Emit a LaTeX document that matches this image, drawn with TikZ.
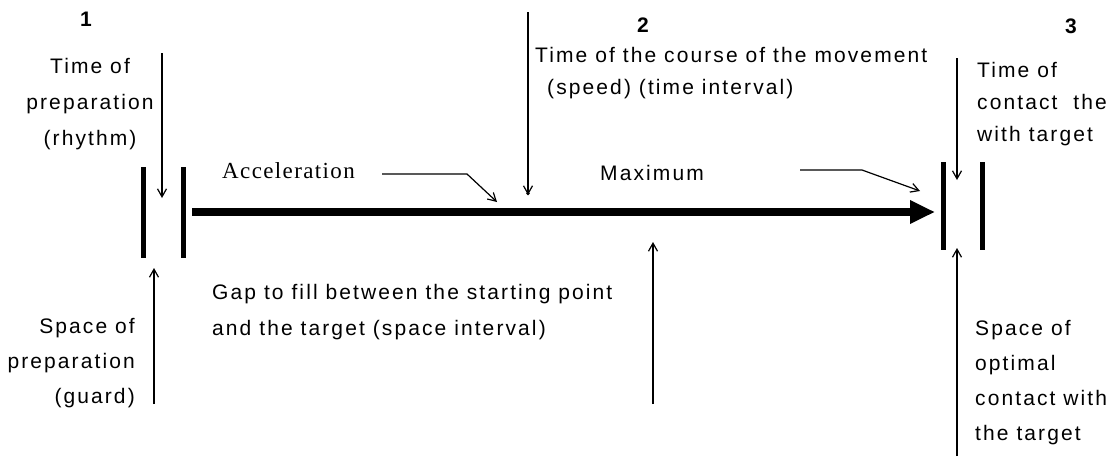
\documentclass[tikz,border=0pt]{standalone}
\usepackage{fontspec}
\setmainfont{Liberation Sans}
\newfontfamily\labfont[LetterSpace=10]{Liberation Sans}
\newfontfamily\accfont[LetterSpace=6]{Liberation Serif}
\usetikzlibrary{arrows.meta}
\begin{document}
\begin{tikzpicture}[x=1pt,y=-1pt,
  lab/.style={inner sep=0pt, font=\labfont\fontsize{21}{36}\selectfont},
  num/.style={inner sep=0pt, anchor=base, font=\bfseries\fontsize{21}{24}\selectfont},
  thin/.style={line width=1.2pt, -{Straight Barb[length=8pt,width=9pt]}},
  bar/.style={line width=5pt},
  mainarrow/.style={line width=8pt, -{Triangle[length=25pt,width=22pt]}}]
\useasboundingbox (0,0) rectangle (1111,456);
% numbers
\node[num] (n1) at (86,26) {1};
\node[num] (n2) at (643,32) {2};
\node[num] (n3) at (1071,33) {3};
% labels (base anchor = baseline of last line)
\node[lab, align=center, anchor=base] (tprep) at (90,145) {Time of\\preparation\\(rhythm)};
\node[lab, align=right, anchor=base east, font=\labfont\fontsize{21}{35}\selectfont] (sprep) at (135,403) {Space of\\preparation\\(guard)};
\node[lab, align=left, anchor=base west] (gap) at (212,335) {Gap to fill between the starting point\\and the target (space interval)};
\node[lab, align=left, anchor=base west, font=\labfont\fontsize{21}{32}\selectfont] (tcourse) at (535,94) {Time of the course of the movement\\\hspace*{12pt}(speed) (time interval)};
\node[lab, align=left, anchor=base west, font=\labfont\fontsize{21}{32}\selectfont] (tcontact) at (977,141) {Time of\\contact\ \ the\\with target};
\node[lab, align=left, anchor=base west, font=\labfont\fontsize{21}{35}\selectfont] (sopt) at (975,440) {Space of\\optimal\\contact with\\the target};
\node[lab, anchor=base west] (max) at (600,180) {Maximum};
\node[inner sep=0pt, anchor=base west, font=\accfont\fontsize{23}{26}\selectfont] (acc) at (222,178) {Acceleration};
% bars
\coordinate (b1t) at (143.5,167); \coordinate (b1b) at (143.5,258);
\coordinate (b2t) at (183,167);   \coordinate (b2b) at (183,258);
\coordinate (b3t) at (943,162);   \coordinate (b3b) at (943,250);
\coordinate (b4t) at (982,162);   \coordinate (b4b) at (982,250);
\draw[bar] (b1t) -- (b1b);
\draw[bar] (b2t) -- (b2b);
\draw[bar] (b3t) -- (b3b);
\draw[bar] (b4t) -- (b4b);
% main arrow
\coordinate (ms) at (192,212);
\coordinate (me) at (935,212);
\draw[mainarrow] (ms) -- (me);
% thin arrows
\coordinate (a1s) at (162,53);  \coordinate (a1e) at (162,198);
\draw[thin] (a1s) -- (a1e);
\coordinate (a2s) at (154,404); \coordinate (a2e) at (154,268);
\draw[thin] (a2s) -- (a2e);
\coordinate (a3s) at (528,12);  \coordinate (a3e) at (528,195);
\draw[thin] (a3s) -- (a3e);
\fill (a3e) ++(0,-1.5) circle (1.8pt);
\coordinate (a4s) at (653,404); \coordinate (a4e) at (653,242);
\draw[thin] (a4s) -- (a4e);
\coordinate (a5s) at (957,58);  \coordinate (a5e) at (957,180);
\draw[thin] (a5s) -- (a5e);
\coordinate (a6s) at (957,456); \coordinate (a6e) at (957,248);
\draw[thin] (a6s) -- (a6e);
% pointer arrows
\coordinate (accs) at (382,174); \coordinate (accm) at (467,174); \coordinate (acce) at (497,202);
\draw[thin] (accs) -- (accm) -- (acce);
\coordinate (maxs) at (800,170); \coordinate (maxm) at (862,170); \coordinate (maxe) at (920,191);
\draw[thin] (maxs) -- (maxm) -- (maxe);
\end{tikzpicture}
\end{document}
